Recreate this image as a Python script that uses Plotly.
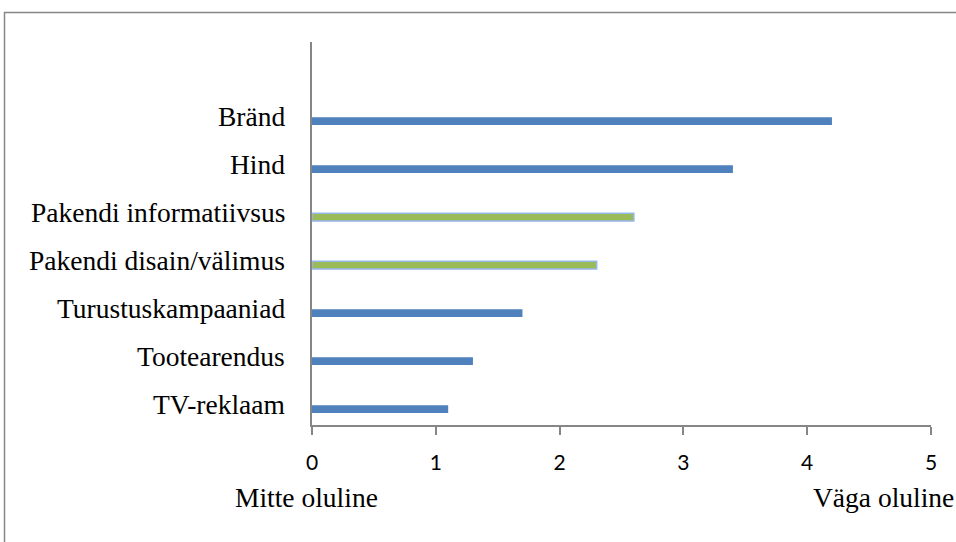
import plotly.graph_objects as go

# Importance ratings (0 = not important, 5 = very important)
categories = ["TV-reklaam", "Tootearendus", "Turustuskampaaniad",
              "Pakendi disain/välimus", "Pakendi informatiivsus", "Hind", "Bränd"]
values = [1.1, 1.3, 1.7, 2.3, 2.6, 3.4, 4.2]
highlighted = [False, False, False, True, True, False, False]
x_ticks = [0, 1, 2, 3, 4, 5]

W, H = 956, 542
L, R, T, B = 312, 25, 42, 117
plot_w = W - L - R
plot_h = H - T - B

colors = ["#9BBB59" if h else "#4F81BD" for h in highlighted]
line_colors = ["#95B8EC" if h else "#4F81BD" for h in highlighted]
line_widths = [1.5 if h else 0 for h in highlighted]

fig = go.Figure()
fig.add_trace(go.Bar(
    y=list(range(len(categories))),
    x=values,
    orientation="h",
    width=0.16,
    marker=dict(color=colors, line=dict(color=line_colors, width=line_widths)),
    hoverinfo="skip",
))

fig.update_layout(
    width=W, height=H,
    margin=dict(l=L, r=R, t=T, b=B),
    paper_bgcolor="white",
    plot_bgcolor="white",
    showlegend=False,
    xaxis=dict(
        range=[0, 5],
        tickvals=x_ticks,
        ticktext=[str(v) for v in x_ticks],
        showgrid=False,
        zeroline=False,
        showline=True,
        linecolor="#868686",
        linewidth=1.5,
        ticks="outside",
        ticklen=8,
        tickcolor="#868686",
        tickwidth=1.5,
        ticklabelstandoff=10,
        tickfont=dict(family="Lato", size=21, color="black"),
    ),
    yaxis=dict(
        range=[-0.33, 7.65],
        showticklabels=False,
        showgrid=False,
        zeroline=False,
        showline=True,
        linecolor="#868686",
        linewidth=1.5,
        ticks="",
    ),
)

def px_to_paper_x(px):
    return (px - L) / plot_w

def px_to_paper_y(py):
    return (H - B - py) / plot_h

serif = dict(family="Liberation Serif", size=27.5, color="black")

# Category names, right-aligned left of the value axis
for i, name in enumerate(categories):
    fig.add_annotation(text=name, xref="paper", yref="y",
                       x=px_to_paper_x(287), y=i, yshift=5,
                       xanchor="right", yanchor="middle", showarrow=False,
                       font=serif)

# Scale end captions under the axis
fig.add_annotation(text="Mitte oluline", xref="paper", yref="paper",
                   x=px_to_paper_x(233), y=px_to_paper_y(497),
                   xanchor="left", yanchor="middle", showarrow=False,
                   font=serif)
fig.add_annotation(text="Väga oluline", xref="paper", yref="paper",
                   x=px_to_paper_x(956), y=px_to_paper_y(497),
                   xanchor="right", yanchor="middle", showarrow=False,
                   font=serif)

# Outer chart frame
fig.add_shape(type="rect", xref="paper", yref="paper",
              x0=px_to_paper_x(4.5), x1=px_to_paper_x(1000),
              y0=px_to_paper_y(600), y1=px_to_paper_y(12.5),
              line=dict(color="#868686", width=1.5), layer="below")

fig.write_html("out.html")
